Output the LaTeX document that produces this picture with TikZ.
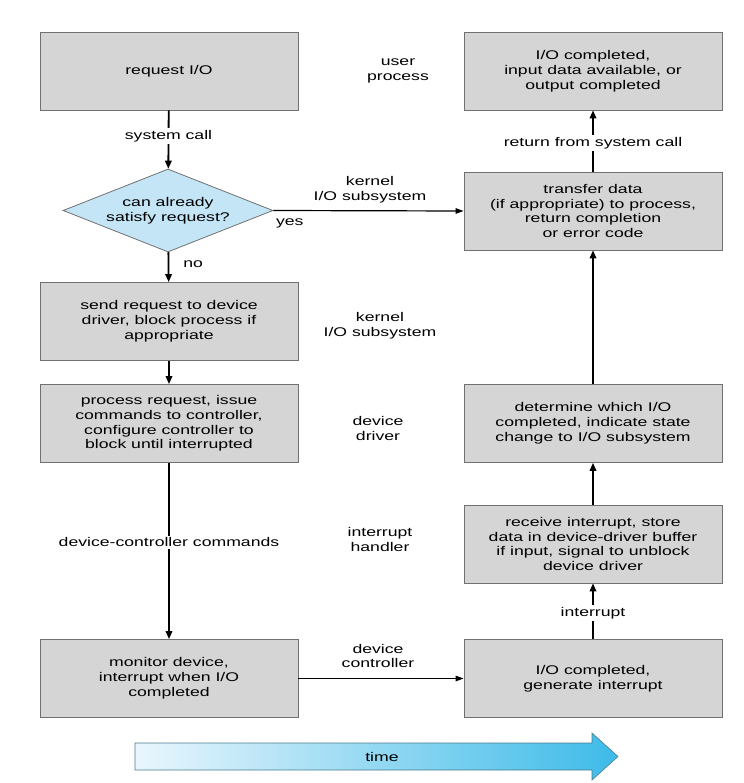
\documentclass[tikz,border=0pt]{standalone}
\usepackage{fontspec}
\setmainfont{Liberation Sans}[FakeStretch=1.4]
\usetikzlibrary{arrows.meta,shapes.geometric}
\definecolor{boxfill}{HTML}{D5D5D5}
\definecolor{boxline}{HTML}{707070}
\definecolor{diafill}{HTML}{C4E5F6}
\definecolor{timeL}{HTML}{EAF6FD}
\definecolor{timeR}{HTML}{3DBBE8}
\definecolor{timeline}{HTML}{4A7C8C}
\tikzset{
  stepbox/.style={draw=boxline, fill=boxfill, line width=0.8pt, minimum width=258pt, minimum height=78pt, inner sep=0pt, align=center, font=\fontsize{12.6}{14.8}\selectfont},
  decide/.style={diamond, draw=boxline, fill=diafill, line width=0.8pt, minimum width=210pt, minimum height=83pt, aspect=2.5, inner sep=0pt, align=center, font=\fontsize{12.6}{14.8}\selectfont},
  layer/.style={align=center, inner sep=0pt, font=\fontsize{12.6}{14.8}\selectfont},
  lbl/.style={fill=white, inner sep=2pt, font=\fontsize{12.6}{14.8}\selectfont},
  vflow/.style={line width=1.8pt, -{Triangle[length=8pt,width=6.5pt]}},
  hflow/.style={line width=1.2pt, -{Triangle[length=8pt,width=5.5pt]}}
}
\begin{document}
\begin{tikzpicture}[x=1pt,y=1pt]
\useasboundingbox (0,0) rectangle (743,-783);
% left column
\node[stepbox] (req) at (169,-71) {request I/O};
\node[decide] (dia) at (168,-210.5) {can already\\satisfy request?};
\node[stepbox] (send) at (169,-321.5) {send request to device\\driver, block process if\\appropriate};
\node[stepbox] (proc) at (169,-423.5) {process request, issue\\commands to controller,\\configure controller to\\block until interrupted};
\node[stepbox] (mon) at (169,-678.5) {monitor device,\\interrupt when I/O\\completed};
% right column
\node[stepbox] (done) at (593,-71) {I/O completed,\\input data available, or\\output completed};
\node[stepbox] (xfer) at (593,-211) {transfer data\\(if appropriate) to process,\\return completion\\or error code};
\node[stepbox] (det) at (593,-423.5) {determine which I/O\\completed, indicate state\\change to I/O subsystem};
\node[stepbox] (recv) at (593,-544) {receive interrupt, store\\data in device-driver buffer\\if input, signal to unblock\\device driver};
\node[stepbox] (ioc) at (593,-678.5) {I/O completed,\\generate interrupt};
% layer labels
\node[layer] (l1) at (398,-71) {user\\process};
\node[layer] (l2) at (370,-189.5) {kernel\\I/O subsystem};
\node[layer] (l3) at (380,-325.5) {kernel\\I/O subsystem};
\node[layer] (l4) at (378,-428.5) {device\\driver};
\node[layer] (l5) at (380,-539.5) {interrupt\\handler};
\node[layer] (l6) at (378,-656) {device\\controller};
% connectors
\draw[vflow] (req) -- node[lbl, pos=0.44] {system call} (dia);
\draw[vflow] (dia) -- node[pos=0.4, anchor=west, inner sep=0pt, xshift=14pt, font=\fontsize{12.6}{14.8}\selectfont] {no} (send);
\draw[hflow] (dia.east) -- node[pos=0, anchor=base west, inner sep=0pt, xshift=2pt, yshift=-15pt, font=\fontsize{12.6}{14.8}\selectfont] {yes} (xfer.west);
\draw[vflow] (send) -- (proc);
\draw[vflow] (proc) -- node[lbl, pos=0.45] {device-controller commands} (mon);
\draw[hflow] (mon.east) -- (ioc.west);
\draw[vflow] (ioc) -- node[lbl, pos=0.47] {interrupt} (recv);
\draw[vflow] (recv) -- (det);
\draw[vflow] (det) -- (xfer);
\draw[vflow] (xfer) -- node[lbl, pos=0.47] {return from system call} (done);
% time arrow
\shadedraw[left color=timeL, right color=timeR, draw=timeline, line width=0.6pt]
  (135,-743) -- (592,-743) -- (592,-733) -- (618,-756.5) -- (592,-780) -- (592,-770) -- (135,-770) -- cycle;
\node[layer] (time) at (382,-756.5) {time};
\end{tikzpicture}
\end{document}
